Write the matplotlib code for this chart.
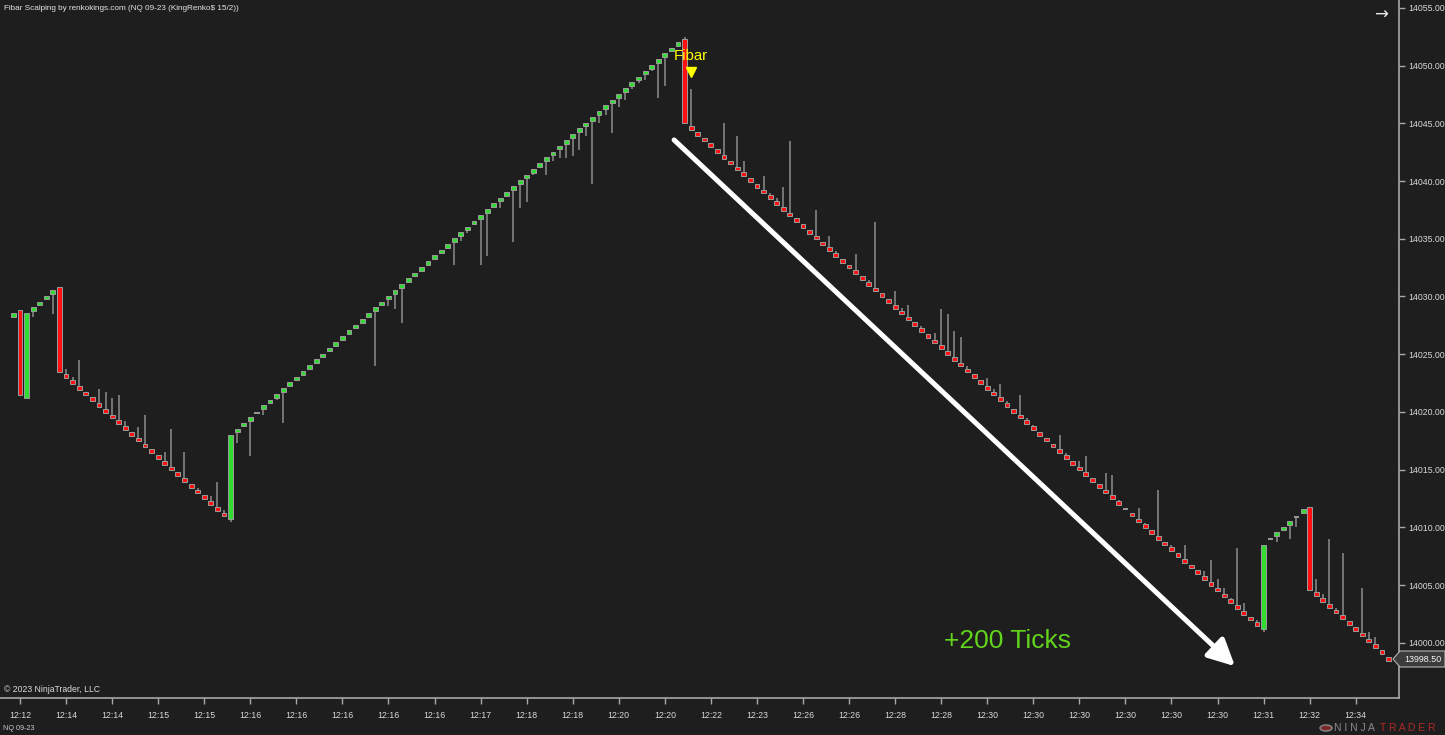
import numpy as np
import matplotlib.pyplot as plt
from matplotlib.patches import Polygon, Circle

# --- data (NQ 09-23) ---
closes = [
    14028.4, 14021.5, 14028.6, 14028.9, 14029.4, 14029.9, 14030.4, 14023.5, 14023.1, 14022.6,
    14022.1, 14021.6, 14021.1, 14020.6, 14020.1, 14019.6, 14019.1, 14018.6, 14018.1, 14017.6,
    14017.1, 14016.6, 14016.1, 14015.6, 14015.1, 14014.6, 14014.1, 14013.6, 14013.1, 14012.6,
    14012.1, 14011.6, 14011.1, 14018.0,
    14018.4, 14018.9, 14019.4, 14019.9, 14020.4, 14020.9, 14021.4, 14021.9, 14022.4, 14022.9,
    14023.4, 14023.9, 14024.4, 14024.9, 14025.4, 14025.9, 14026.4, 14026.9, 14027.4, 14027.9,
    14028.4, 14028.9, 14029.4, 14029.9, 14030.4, 14030.9, 14031.4, 14031.9, 14032.4, 14032.9,
    14033.4, 14033.9, 14034.4, 14034.9, 14035.4, 14035.9, 14036.4, 14036.9, 14037.4, 14037.9,
    14038.4, 14038.9, 14039.4, 14039.9, 14040.4, 14040.9, 14041.4, 14041.9, 14042.4, 14042.9,
    14043.4, 14043.9, 14044.4, 14044.9, 14045.4, 14045.9, 14046.4, 14046.9, 14047.4, 14047.9,
    14048.4, 14048.9, 14049.4, 14049.9, 14050.4, 14050.9, 14051.4, 14051.9,
    14045.0,
    14044.6, 14044.1, 14043.6, 14043.1, 14042.6, 14042.1, 14041.6, 14041.1, 14040.6, 14040.1,
    14039.6, 14039.1, 14038.6, 14038.1, 14037.6, 14037.1, 14036.6, 14036.1, 14035.6, 14035.1,
    14034.6, 14034.1, 14033.6, 14033.1, 14032.6, 14032.1, 14031.6, 14031.1, 14030.6, 14030.1,
    14029.6, 14029.1, 14028.6, 14028.1, 14027.6, 14027.1, 14026.6, 14026.1, 14025.6, 14025.1,
    14024.6, 14024.1, 14023.6, 14023.1, 14022.6, 14022.1, 14021.6, 14021.1, 14020.6, 14020.1,
    14019.6, 14019.1, 14018.6, 14018.1, 14017.6, 14017.1, 14016.6, 14016.1, 14015.6, 14015.1,
    14014.6, 14014.1, 14013.6, 14013.1, 14012.6, 14012.1, 14011.6, 14011.1, 14010.6, 14010.1,
    14009.6, 14009.1, 14008.6, 14008.1, 14007.6, 14007.1, 14006.6, 14006.1, 14005.6, 14005.1,
    14004.6, 14004.1, 14003.6, 14003.1, 14002.6, 14002.1, 14001.6,
    14008.5, 14009.0, 14009.4, 14009.9, 14010.4, 14010.9, 14011.4,
    14004.6, 14004.2, 14003.7, 14003.2, 14002.7, 14002.2, 14001.7, 14001.2, 14000.7, 14000.2,
    13999.7, 13999.2, 13998.6,
]

# reversal (big) bars: bar index -> open
big_opens = {1: 14028.8, 2: 14021.2, 7: 14030.8, 33: 14010.7,
             102: 14052.3, 190: 14001.2, 197: 14011.8}

# bars drawn as flat (doji) bricks
doji_bars = [37, 169, 191, 195]

# wick extremes: bar index -> high (down bricks) or low (up bricks)
wicks = {
    3: 14028.25, 6: 14028.5, 8: 14023.7, 9: 14023.0, 10: 14024.5, 13: 14022.0,
    14: 14021.7, 15: 14021.2, 16: 14021.5, 17: 14019.2, 19: 14018.7, 20: 14019.7,
    23: 14016.5, 24: 14018.5, 26: 14016.5, 28: 14013.4, 30: 14012.7, 31: 14013.95,
    32: 14011.5, 33: 14010.45, 34: 14017.3, 36: 14016.2, 38: 14019.7, 40: 14021.0,
    41: 14019.0, 55: 14024.0, 57: 14029.2, 58: 14028.9, 59: 14027.7, 67: 14032.7,
    68: 14034.8, 69: 14035.5, 71: 14032.7, 72: 14033.5, 74: 14037.7, 76: 14034.75,
    77: 14037.7, 78: 14038.2, 79: 14040.5, 81: 14040.5, 82: 14041.7, 83: 14042.0,
    84: 14042.0, 85: 14042.2, 86: 14042.7, 87: 14043.9, 88: 14039.75, 89: 14045.0,
    90: 14045.7, 91: 14044.2, 92: 14046.45, 93: 14047.0, 94: 14048.0, 95: 14048.5,
    96: 14048.8, 97: 14049.5, 98: 14047.2, 99: 14048.2,
    102: 14052.5, 103: 14048.0, 108: 14045.0, 110: 14043.9, 111: 14041.7,
    114: 14040.45, 115: 14039.0, 116: 14038.5, 117: 14039.5, 118: 14043.5,
    122: 14037.5, 124: 14035.2, 125: 14033.95, 128: 14033.7, 130: 14031.4,
    131: 14036.45, 134: 14030.5, 135: 14029.0, 136: 14029.25, 138: 14027.45,
    140: 14026.8, 141: 14028.9, 142: 14028.5, 143: 14027.0, 144: 14026.5,
    145: 14024.0, 148: 14022.96, 149: 14021.96, 150: 14022.4, 151: 14020.97,
    153: 14021.5, 154: 14019.45, 155: 14018.9, 159: 14017.96, 160: 14016.4,
    162: 14015.75, 163: 14016.2, 166: 14014.7, 167: 14014.5, 168: 14012.4,
    171: 14011.7, 172: 14010.4, 174: 14013.2, 176: 14008.45, 178: 14008.45,
    181: 14006.2, 182: 14007.2, 183: 14005.5, 184: 14004.7, 185: 14003.9,
    186: 14008.2, 187: 14003.4, 189: 14002.0, 190: 14000.95, 192: 14008.7,
    194: 14009.0, 195: 14010.0, 198: 14005.5, 199: 14004.2, 200: 14009.0,
    201: 14003.0, 202: 14007.75, 205: 14004.7, 206: 14000.9, 207: 14000.5,
}

tick_bars = list(range(1, 210, 7))
tick_labels = ['12:12', '12:14', '12:14', '12:15', '12:15', '12:16', '12:16', '12:16',
               '12:16', '12:16', '12:17', '12:18', '12:18', '12:20', '12:20', '12:22',
               '12:23', '12:26', '12:26', '12:28', '12:28', '12:30', '12:30', '12:30',
               '12:30', '12:30', '12:30', '12:31', '12:32', '12:34']
y_ticks = [14000, 14005, 14010, 14015, 14020, 14025, 14030, 14035, 14040, 14045, 14050, 14055]
last_price = 13998.50
signal_bar = 103

# --- style ---
W, H = 1445, 735
BG = '#1e1e1e'
UP = '#30dc30'
DOWN = '#ff1010'
EDGE = '#9c9c9c'
WICK = '#8c8c8c'
AXIS = '#a8a8a8'
TXT = '#d8d8d8'

plt.rcParams['font.family'] = ['Liberation Sans', 'DejaVu Sans']


def fx(x):
    return x / W


def fy(y):
    return 1 - y / H


fig = plt.figure(figsize=(W / 100, H / 100), dpi=100, facecolor=BG)
ax = fig.add_axes([0, fy(698), fx(1399), 698 / H])
ax.set_facecolor(BG)

x = np.arange(len(closes))
colors = []
for i, c in enumerate(closes):
    if i in big_opens:
        up = c > big_opens[i]
    elif i == 0:
        up = True
    else:
        up = c > closes[i - 1]
    colors.append(UP if up else DOWN)

# wicks first so bodies sit on top
for i, ext in wicks.items():
    ax.vlines(i, min(ext, closes[i]), max(ext, closes[i]), color=WICK, lw=1.1, zorder=2)

# small bricks
small = [i for i in x if i not in big_opens and i not in doji_bars]
brick_h = 0.32
ax.bar([x[i] for i in small], brick_h, bottom=[closes[i] - brick_h / 2 for i in small],
       width=0.74, color=[colors[i] for i in small], edgecolor=EDGE, lw=0.7, zorder=3)

# reversal bars
big = list(big_opens.keys())
ax.bar(big, [abs(closes[i] - big_opens[i]) for i in big],
       bottom=[min(closes[i], big_opens[i]) for i in big],
       width=0.74, color=[colors[i] for i in big], edgecolor=EDGE, lw=0.7, zorder=3)

# doji bricks
ax.hlines([closes[i] for i in doji_bars], [i - 0.4 for i in doji_bars],
          [i + 0.4 for i in doji_bars], color='#9a9a9a', lw=1.4, zorder=3)

ax.set_xlim(-2.04, 210.58)
ax.set_ylim(13995.21, 14055.69)

ax.set_xticks(tick_bars)
ax.set_xticklabels(tick_labels)
ax.set_yticks(y_ticks)
ax.set_yticklabels([f'{v:.2f}' for v in y_ticks])
ax.yaxis.tick_right()
ax.tick_params(axis='both', colors=AXIS, labelcolor=TXT, labelsize=6.3, length=4, width=1)
ax.tick_params(axis='x', pad=5)
ax.tick_params(axis='y', pad=3)
for side in ['left', 'top']:
    ax.spines[side].set_visible(False)
for side in ['right', 'bottom']:
    ax.spines[side].set_color(AXIS)
    ax.spines[side].set_linewidth(1.2)

# signal marker
ax.text(signal_bar, closes[signal_bar] + 6.25, 'Fibar', color='#ffff00', fontsize=10.8,
        ha='center', va='center', zorder=5)
ax.plot(signal_bar, closes[signal_bar] + 4.85, marker='v', color='#ffff00', ms=7,
        mec='#ffff00', zorder=5)

# trend arrow
ax.annotate('', xy=(185.96, 13997.8), xytext=(100.1, 14043.73),
            arrowprops=dict(arrowstyle='-|>', color='white', lw=3.6,
                            mutation_scale=40), zorder=4)

fig.text(fx(944), fy(641), '+200 Ticks', color='#62d41c', fontsize=19,
         ha='left', va='center')

# chart furniture
fig.text(fx(4), fy(8), 'Fibar Scalping by renkokings.com (NQ 09-23 (KingRenko$ 15/2))',
         color='#e4e4e4', fontsize=5.9, ha='left', va='center')
fig.text(fx(4), fy(689), '\u00a9 2023 NinjaTrader, LLC', color='#dcdcdc', fontsize=6.2,
         ha='left', va='center')
fig.text(fx(3), fy(728), 'NQ 09-23', color='#c8c8c8', fontsize=5.2, ha='left', va='center')
fig.text(fx(1381), fy(15), '\u2192', color='#e8e8e8', fontsize=12, ha='center',
         va='center', family='DejaVu Sans')

# last price marker
pts = [(1393, 659), (1400, 651), (1445, 651), (1445, 667), (1400, 667)]
fig.patches.append(Polygon([(fx(a), fy(b)) for a, b in pts], closed=True,
                           transform=fig.transFigure, facecolor='#3c3c3c',
                           edgecolor='#b4b4b4', lw=0.8))
fig.text(fx(1423), fy(659), f'{last_price:.2f}', color='#f4f4f4', fontsize=6.4,
         ha='center', va='center')

# NinjaTrader logo
fig.patches.append(Circle((fx(1326), fy(728)), 6 / W, transform=fig.transFigure,
                          facecolor='#7a2a2a', edgecolor='#8a8a8a', lw=1))
fig.text(fx(1334), fy(728), 'N I N J A', color='#8a8a8a', fontsize=7.5,
         ha='left', va='center')
fig.text(fx(1380), fy(728), 'T R A D E R', color='#b02a2a', fontsize=7.5,
         ha='left', va='center')

plt.savefig('out.png', dpi=100, facecolor=BG)
